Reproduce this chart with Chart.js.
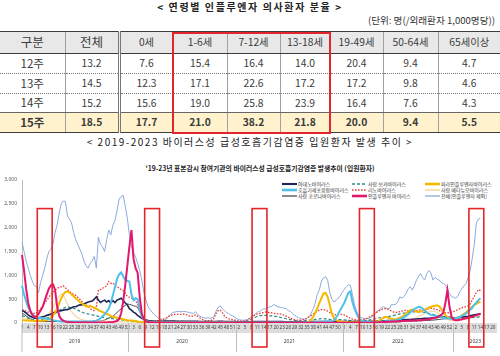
<!DOCTYPE html>
<html><head><meta charset="utf-8">
<script src="https://cdn.jsdelivr.net/npm/chart.js@4"></script>
<style>
body{margin:0;width:500px;height:356px;overflow:hidden;background:#fff;font-family:"Noto Sans CJK KR","Noto Sans",sans-serif;color:#333;position:relative}
.abs{position:absolute;white-space:nowrap}
#t1{left:0;width:500px;top:0;text-align:center;font-size:10px;font-weight:bold;letter-spacing:1.6px;line-height:14px;color:#222}
#unit{right:5px;top:14px;font-size:9.6px;line-height:13px;color:#333}
#tbl{position:absolute;left:0;top:31px;width:500px;border-collapse:collapse;table-layout:fixed}
#tbl td{padding:0;text-align:center;color:#3b3b3b;font-size:10.3px;border-left:1px solid #a0a0a0;line-height:1;}
#tbl tr.h td{background:#e8e8e8;height:21px;border-top:1.5px solid #3c3c3c;border-bottom:1px solid #3c3c3c;}
#tbl tr.h td.big{font-size:12.5px}
#tbl td.rl{font-size:11.5px}
#tbl td:first-child{border-left:none}
#tbl td.dbl{border-right:3px double #777}
#tbl tr.r td{border-bottom:1px dotted #7a7a7a;height:19px}
#tbl tr.r3 td{border-bottom:1px solid #666;height:18px}
#tbl tr.last td{background:#fff2cc;font-weight:bold;border-bottom:1px solid #3c3c3c;height:19px}
#redbox{left:172px;top:32px;width:155px;height:98px;border:2px solid #e3262b}
#t2{left:0;width:500px;top:135px;text-align:center;font-size:10px;letter-spacing:1.5px;line-height:14px;color:#222}
#t3{left:0;width:520px;top:164px;text-align:center;font-size:6.8px;font-weight:bold;line-height:9px;color:#222}
.lg{position:absolute;font-size:5px;line-height:6px;color:#333;white-space:nowrap}
#cv{position:absolute;left:0;top:172px}
</style></head>
<body>
<div id="t1" class="abs">&lt; 연령별 인플루엔자 의사환자 분율 &gt;</div>
<div id="unit" class="abs">(단위: 명(/외래환자 1,000명당))</div>
<table id="tbl"></table>
<div id="redbox" class="abs"></div>
<div id="t2" class="abs">&lt; 2019-2023 바이러스성 급성호흡기감염증 입원환자 발생 추이 &gt;</div>
<div id="t3" class="abs">'19-23년 표본감시 참여기관의 바이러스성 급성호흡기감염증 발생추이 (입원환자)</div>
<div id="legend"></div>
<canvas id="cv" width="500" height="184"></canvas>
<script>
// ---------- table data ----------
const tableHeaders = ["구분","전체","0세","1-6세","7-12세","13-18세","19-49세","50-64세","65세이상"];
const tableWeeks = ["12주","13주","14주","15주"];
const week12 = ["13.2","7.6","15.4","16.4","14.0","20.4","9.4","4.7"];
const week13 = ["14.5","12.3","17.1","22.6","17.2","17.2","9.8","4.6"];
const week14 = ["15.2","15.6","19.0","25.8","23.9","16.4","7.6","4.3"];
const week15 = ["18.5","17.7","21.0","38.2","21.8","20.0","9.4","5.5"];
const tableRows = [week12, week13, week14, week15];

// ---------- chart categories ----------
const years = [2019, 2020, 2021, 2022, 2023];
const weeksPerYear = [52, 52, 52, 53, 22];
const highlightWeeks = [9, 16];

// ---------- series (weekly hospitalised cases) ----------
const adeno = [
260,240,210,170,140,120,100,100,110,120,130,140,160,170,190,210,230,240,250,260,270,280,280,300,320,340,340,360,380,380,400,420,440,450,460,500,550,480,430,460,480,440,470,420,470,430,480,500,520,470,420,380,
300,270,230,200,160,130,100,80,60,50,40,40,35,35,35,35,35,40,40,40,40,40,40,35,35,35,35,35,35,35,35,35,35,35,30,30,30,30,30,30,30,30,30,35,35,35,30,30,30,30,30,30,
25,25,25,25,25,25,25,30,30,30,30,30,30,30,30,30,30,30,30,30,30,30,30,25,25,25,25,25,25,25,25,25,25,25,25,25,30,30,30,30,30,30,30,30,30,30,30,30,30,30,30,30,
30,30,30,30,30,30,30,30,30,30,30,30,30,35,35,35,40,40,40,45,45,50,50,50,55,55,60,60,65,65,70,70,75,80,80,85,90,90,95,100,100,100,105,110,110,115,120,120,120,120,120,120,115,
110,110,115,120,125,130,135,140,150,160,170,180,190,200];
const boca = [
150,140,120,100,80,70,60,60,60,70,80,90,100,120,140,170,200,230,260,290,310,330,340,330,320,310,290,270,250,230,210,200,190,180,170,160,150,140,130,120,110,100,100,90,90,80,80,70,70,60,60,50,
50,45,40,35,30,25,20,20,15,15,15,15,15,15,15,15,20,20,25,25,30,30,30,35,35,35,35,30,30,30,30,30,30,25,25,20,20,20,20,20,20,20,25,25,25,25,25,20,20,20,20,20,
20,20,20,25,30,40,60,80,100,120,140,150,160,160,160,160,150,150,140,140,130,120,110,100,90,80,70,60,50,50,45,45,45,50,55,60,65,70,75,80,85,90,90,85,80,75,70,70,70,70,70,70,
65,60,55,50,45,40,40,40,40,45,50,55,60,70,80,90,100,110,110,120,120,130,140,150,160,170,180,190,200,210,215,220,225,230,235,240,240,235,230,220,210,200,190,180,170,160,150,140,130,120,110,100,100,
95,90,90,90,95,100,100,105,110,115,120,120,125,130];
const para = [
60,55,50,50,45,45,40,40,40,45,50,50,60,80,110,150,220,300,410,520,600,650,660,640,600,560,520,480,440,410,380,350,340,360,340,320,300,270,250,230,210,190,170,150,130,120,110,100,90,80,70,60,
55,50,45,40,30,20,15,10,10,10,10,10,10,8,8,8,8,8,8,8,8,8,8,8,8,8,8,8,8,8,8,8,8,8,8,8,8,8,8,8,8,8,8,8,8,8,8,8,8,8,8,8,
5,5,5,5,5,5,5,5,5,5,5,5,5,5,5,5,5,5,5,5,5,5,5,5,5,5,5,5,5,5,5,5,5,10,15,30,60,130,220,310,420,520,620,630,550,380,200,100,60,40,30,25,
20,20,15,15,15,15,15,15,15,20,20,20,20,25,25,30,30,50,80,110,130,120,100,90,80,80,90,110,130,160,200,240,270,280,260,240,230,240,260,280,300,320,340,350,360,370,350,300,230,170,120,100,90,
90,100,110,130,160,190,220,260,300,340,380,400,430,450];
const rsv = [
780,600,450,330,250,180,140,120,110,110,100,100,90,80,70,60,50,40,35,30,30,30,30,30,30,30,30,30,30,30,30,30,30,30,30,40,50,70,100,140,180,240,300,420,580,750,920,1020,1060,980,900,880,
870,600,480,520,500,280,140,70,40,30,20,15,10,10,10,10,10,10,10,10,10,10,10,10,10,10,10,10,10,10,10,10,10,10,10,10,10,10,10,10,10,10,10,10,10,10,10,10,10,10,10,10,
10,10,10,10,10,10,10,10,10,10,10,10,10,10,10,10,10,10,10,10,10,10,10,10,10,10,10,10,10,10,10,10,10,10,10,10,15,15,20,20,20,25,25,30,30,30,35,50,110,180,270,340,
420,520,630,660,440,300,200,110,60,40,30,25,20,20,20,20,20,20,25,30,35,40,40,45,50,60,70,80,100,120,150,180,220,260,290,320,340,330,300,260,220,190,170,160,150,140,130,120,110,100,95,90,90,
90,100,110,130,150,170,200,240,280,320,380,430,480,520];
const rhino = [
280,270,250,230,210,200,200,210,250,300,360,420,480,540,600,650,690,720,750,760,780,740,700,660,630,600,580,540,500,450,400,380,340,300,270,260,340,690,700,730,750,780,870,830,840,790,760,730,700,680,620,560,
540,520,500,470,380,270,150,90,60,50,45,40,40,45,50,60,70,90,110,140,160,170,180,180,185,180,190,180,170,150,140,150,170,140,110,80,60,50,50,50,60,100,200,260,270,220,150,110,90,80,70,60,
50,45,40,40,45,60,90,120,150,170,190,200,210,220,230,220,220,210,200,200,190,190,180,160,140,120,100,80,70,60,60,60,70,80,100,130,160,190,220,250,270,280,280,270,250,220,200,180,170,175,180,180,
170,150,120,100,80,70,60,60,60,70,80,100,120,140,170,200,230,260,280,300,300,290,270,250,230,220,230,240,250,260,270,260,250,240,250,260,270,280,270,260,280,300,310,300,290,280,260,240,220,210,210,220,230,
240,260,280,300,320,330,340,360,400,480,560,640,700,680];
const metapneumo = [
100,90,80,70,60,55,50,50,55,60,80,110,150,200,260,330,400,480,560,610,580,500,400,310,240,180,140,110,90,70,60,50,45,40,40,40,40,40,40,40,40,35,35,35,30,30,30,30,30,25,25,25,
25,20,20,15,15,10,10,10,5,5,5,5,5,5,5,5,5,5,5,5,5,5,5,5,5,5,5,5,5,5,5,5,5,5,5,5,5,5,5,5,5,5,5,5,5,5,5,5,5,5,5,5,
5,5,5,5,5,5,5,5,5,5,5,5,5,5,5,5,5,5,5,5,5,5,5,5,5,5,5,5,5,5,5,5,5,5,5,5,5,5,5,5,5,5,5,5,5,5,5,5,5,5,5,5,
5,5,5,5,5,5,5,5,5,5,5,5,10,10,10,15,15,20,20,25,25,30,30,30,30,35,35,40,40,40,50,60,70,80,100,120,140,160,180,200,220,240,250,250,240,220,190,160,130,100,80,60,50,
50,50,60,60,70,70,80,90,100,110,120,130,140,150];
const corona = [
200,180,150,120,90,70,50,40,35,30,30,30,30,30,30,30,30,30,30,30,30,30,30,30,30,30,30,30,30,30,30,30,30,30,35,35,35,40,45,50,60,80,100,120,140,180,220,260,300,340,370,400,
390,380,360,350,330,240,140,70,40,30,20,15,15,10,10,10,10,10,10,10,10,10,10,10,10,10,10,10,10,10,10,10,10,10,10,10,10,10,10,10,10,10,10,10,10,10,10,10,10,10,10,10,
5,5,5,5,5,5,5,5,5,5,5,5,5,5,5,5,5,5,5,5,5,5,5,5,5,5,5,5,5,5,5,5,5,5,5,5,5,5,5,5,5,5,5,5,5,5,5,5,5,5,5,5,
5,5,5,5,5,5,5,5,5,5,5,5,5,5,10,10,10,10,10,15,15,15,20,20,20,20,25,25,30,30,30,35,35,40,40,40,45,45,50,50,55,55,60,60,65,70,75,80,85,90,90,95,100,
100,105,110,115,120,125,130,135,140,150,160,170,175,180];
const influenza = [
1430,1100,720,420,260,170,130,140,190,260,340,470,600,720,790,810,700,350,150,80,50,30,20,15,15,10,10,10,10,10,10,10,10,10,10,10,10,10,10,10,10,10,15,15,20,30,40,80,200,450,800,1200,
1600,1950,1350,1150,1050,550,200,80,40,20,10,10,5,5,5,5,5,5,5,5,5,5,5,5,5,5,5,5,5,5,5,5,5,5,5,5,5,5,5,5,5,5,5,5,5,5,5,5,5,5,5,5,
3,3,3,3,3,3,3,3,3,3,3,3,3,3,3,3,3,3,3,3,3,3,3,3,3,3,3,3,3,3,3,3,3,3,3,3,3,3,3,3,3,3,3,3,3,3,3,3,3,3,3,3,
5,5,5,5,5,5,5,5,5,5,5,5,5,5,10,10,10,15,15,20,20,25,25,30,30,30,35,35,40,40,45,45,50,50,55,55,60,60,65,70,75,80,90,100,110,120,140,170,210,420,690,340,130,
70,60,60,70,80,90,100,110,120,130,150,160,180,190];
const totalExFlu = [
1700,1500,1300,1150,1000,880,780,760,640,850,1000,1150,1350,1500,1550,1650,1900,2050,2300,2500,2560,2550,2250,2180,2100,1900,1750,1650,1550,1450,1300,1200,1150,1250,1300,1400,1150,1800,1650,1600,1500,1750,1950,1850,2050,2150,2350,2600,2650,2680,2450,2200,
1850,1600,1480,1380,1250,1100,900,650,480,350,280,230,180,140,110,90,70,60,90,130,190,220,230,240,240,235,245,240,230,220,210,200,240,180,150,120,110,100,110,100,110,140,250,330,360,300,260,220,200,170,150,120,
90,70,60,60,60,70,90,120,150,190,230,240,270,300,290,320,340,350,390,360,340,330,320,310,300,260,240,200,160,130,110,90,80,80,100,130,200,300,420,600,700,880,950,970,900,650,500,440,470,520,560,640,
700,760,800,790,600,380,250,160,120,100,90,90,100,120,140,200,250,270,320,340,320,300,310,390,380,390,450,550,520,560,620,720,760,690,780,900,970,1040,950,900,1040,1100,1050,900,960,920,900,850,830,800,700,620,550,
540,520,560,660,720,780,830,950,1100,1350,1650,2100,2180,2200];

// ---------- build table ----------
(function(){
  const t = document.getElementById('tbl');
  const widths=[65,54,54,54,53,50,53,55,62];
  let cg='<colgroup>'+widths.map(w=>'<col style="width:'+w+'px">').join('')+'</colgroup>';
  let h='<tr class="h">'+tableHeaders.map((s,i)=>'<td class="'+(i<2?'big ':'')+(i===1?'dbl':'')+'">'+s+'</td>').join('')+'</tr>';
  tableRows.forEach((row,r)=>{
    const cls = r===tableRows.length-1 ? 'last' : (r===tableRows.length-2 ? 'r r3' : 'r');
    h+='<tr class="'+cls+'"><td class="rl">'+tableWeeks[r]+'</td>'+row.map((v,i)=>'<td class="'+(i===0?'dbl':'')+'">'+v+'</td>').join('')+'</tr>';
  });
  t.innerHTML=cg+h;
})();

// ---------- categories ----------
const weekLabels=[]; const yearStart=[];
(function(){let acc=0;years.forEach((y,k)=>{yearStart.push(acc);for(let w=1;w<=weeksPerYear[k];w++)weekLabels.push(String(w));acc+=weeksPerYear[k];});})();

const seriesNames=["아데노바이러스","사람 보카바이러스","파라인플루엔자바이러스","호흡기세포융합바이러스","리노바이러스","사람 메타뉴모바이러스","사람 코로나바이러스","인플루엔자 바이러스","전체(인플루엔자 제외)"];
const seriesData=[adeno,boca,para,rsv,rhino,metapneumo,corona,influenza,totalExFlu];
const styles=[
 {c:'#1b2757',w:1.6,d:[],o:4},
 {c:'#2f8c84',w:1.2,d:[3,2],o:6},
 {c:'#f5b800',w:2,d:[],o:3},
 {c:'#4ec0ea',w:2,d:[],o:2},
 {c:'#e8403a',w:1.3,d:[1.6,1.4],o:5},
 {c:'#f9d6a2',w:1.2,d:[],o:7},
 {c:'#1e1e1e',w:0.8,d:[],o:8},
 {c:'#e3176c',w:2,d:[],o:1},
 {c:'#8eaadb',w:1,d:[],o:10}
];

// ---------- HTML legend ----------
(function(){
  const lg=document.getElementById('legend');
  const colX=[282,352,425], rowY=[183.5,189.5,195.5];
  seriesNames.forEach((n,i)=>{
    const col=i%3,row=Math.floor(i/3),s=styles[i];
    const x=colX[col],y=rowY[row];
    const lw=Math.max(s.w*1.3,1);
    lg.insertAdjacentHTML('beforeend',
      '<svg class="abs" style="left:'+x+'px;top:'+(y-3)+'px" width="16" height="6"><line x1="0" y1="3" x2="15" y2="3" stroke="'+s.c+'" stroke-width="'+lw+'" '+(s.d.length?'stroke-dasharray="'+s.d.join(',')+'"':'')+'/></svg>'+
      '<div class="lg" style="left:'+(x+16)+'px;top:'+(y-3)+'px">'+n+'</div>');
  });
})();

// ---------- plugins ----------
const decor={
  id:'decor',
  beforeDraw(chart){
    const {ctx,chartArea:a,scales:{x}}=chart;
    ctx.save();
    ctx.fillStyle='#d6d6d6';
    ctx.fillRect(a.left,a.bottom,a.right-a.left,10);
    ctx.strokeStyle='rgba(255,255,255,0.55)';ctx.lineWidth=0.6;
    for(let i=0;i<weekLabels.length;i++){const px=x.getPixelForValue(i)+1;ctx.beginPath();ctx.moveTo(px,a.bottom);ctx.lineTo(px,a.bottom+10);ctx.stroke();}
    ctx.restore();
  },
  afterDraw(chart){
    const {ctx,chartArea:a,scales:{x,y}}=chart;
    ctx.save();
    ctx.strokeStyle='#bdbdbd';ctx.lineWidth=1;
    ctx.beginPath();ctx.moveTo(a.left,a.bottom);ctx.lineTo(a.left,a.bottom+29);ctx.stroke();
    for(let k=1;k<years.length;k++){const px=Math.round(x.getPixelForValue(yearStart[k]-0.5))+0.5;ctx.beginPath();ctx.moveTo(px,a.bottom);ctx.lineTo(px,a.bottom+29);ctx.stroke();}
    ctx.fillStyle='#404040';ctx.font='5px "Noto Sans","DejaVu Sans",sans-serif';ctx.textAlign='center';ctx.textBaseline='middle';
    years.forEach((yr,k)=>{const s=yearStart[k],e=s+weeksPerYear[k]-1;const cx=(x.getPixelForValue(s)+x.getPixelForValue(Math.min(e,weekLabels.length-1)))/2;ctx.fillText(String(yr),cx,a.bottom+18.5);});
    ctx.strokeStyle='#e3262b';ctx.lineWidth=1.6;
    const top=y.getPixelForValue(2400);
    yearStart.forEach((s)=>{const x0=x.getPixelForValue(s+highlightWeeks[0]-1.6),x1=x.getPixelForValue(s+highlightWeeks[1]-1.4);ctx.strokeRect(x0,top,x1-x0,a.bottom+24-top);});
    ctx.restore();
  }
};

new Chart(document.getElementById('cv'),{
  type:'line',
  data:{labels:weekLabels,datasets:seriesNames.map((n,i)=>({label:n,data:seriesData[i],borderColor:styles[i].c,backgroundColor:styles[i].c,borderWidth:styles[i].w,borderDash:styles[i].d,pointRadius:0,tension:0,order:styles[i].o,fill:false}))},
  options:{
    responsive:false,animation:false,devicePixelRatio:1,
    layout:{padding:{top:8,right:3,left:0,bottom:0}},
    plugins:{legend:{display:false},tooltip:{enabled:false},title:{display:false}},
    scales:{
      x:{type:'category',offset:false,grid:{display:false,drawTicks:false},border:{display:false},
         ticks:{autoSkip:false,maxRotation:0,minRotation:0,padding:2,color:'#404040',font:{size:4.6,family:'"Noto Sans","DejaVu Sans",sans-serif'},
           callback:(v,i)=> i%3===0 ? weekLabels[i] : ''},
         afterFit:(s)=>{s.height=33;}},
      y:{min:0,max:3000,grid:{display:false,drawTicks:false},border:{display:true,color:'#bdbdbd',width:1},
         ticks:{stepSize:500,padding:5,color:'#595959',font:{size:5,family:'"Noto Sans","DejaVu Sans",sans-serif'},callback:(v)=>v.toLocaleString('en-US')},
         afterFit:(s)=>{s.width=22;}}
    }
  },
  plugins:[decor]
});
</script>
</body></html>
